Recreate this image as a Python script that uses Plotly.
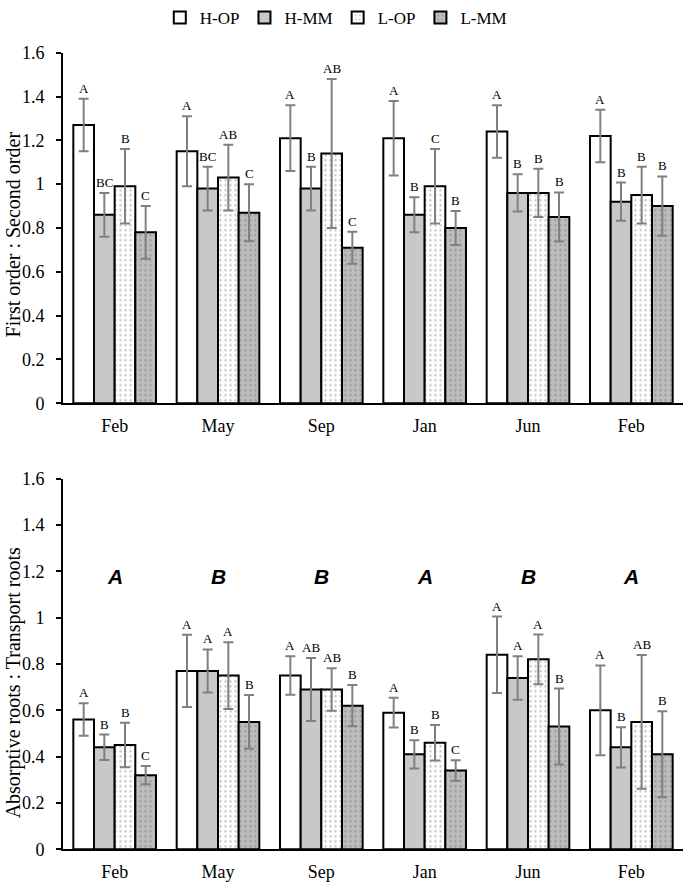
import plotly.graph_objects as go

months = ["Feb", "May", "Sep", "Jan", "Jun", "Feb"]
series = ["H-OP", "H-MM", "L-OP", "L-MM"]

# Top panel: First order : Second order
top_HOP = [1.27, 1.15, 1.21, 1.21, 1.24, 1.22]
top_HOP_err = [0.12, 0.16, 0.15, 0.17, 0.12, 0.12]
top_HMM = [0.86, 0.98, 0.98, 0.86, 0.96, 0.92]
top_HMM_err = [0.10, 0.10, 0.10, 0.08, 0.085, 0.087]
top_LOP = [0.99, 1.03, 1.14, 0.99, 0.96, 0.95]
top_LOP_err = [0.17, 0.15, 0.34, 0.17, 0.11, 0.13]
top_LMM = [0.78, 0.87, 0.71, 0.80, 0.85, 0.90]
top_LMM_err = [0.12, 0.13, 0.073, 0.078, 0.112, 0.135]
top_HOP_lab = ["A", "A", "A", "A", "A", "A"]
top_HMM_lab = ["BC", "BC", "B", "B", "B", "B"]
top_LOP_lab = ["B", "AB", "AB", "C", "B", "B"]
top_LMM_lab = ["C", "C", "C", "B", "B", "B"]

# Bottom panel: Absorptive roots : Transport roots
bot_HOP = [0.56, 0.77, 0.75, 0.59, 0.84, 0.60]
bot_HOP_err = [0.07, 0.156, 0.083, 0.064, 0.165, 0.194]
bot_HMM = [0.44, 0.77, 0.69, 0.41, 0.74, 0.44]
bot_HMM_err = [0.055, 0.093, 0.136, 0.061, 0.094, 0.087]
bot_LOP = [0.45, 0.75, 0.69, 0.46, 0.82, 0.55]
bot_LOP_err = [0.096, 0.144, 0.092, 0.077, 0.107, 0.289]
bot_LMM = [0.32, 0.55, 0.62, 0.34, 0.53, 0.41]
bot_LMM_err = [0.039, 0.116, 0.089, 0.044, 0.164, 0.186]
bot_HOP_lab = ["A", "A", "A", "A", "A", "A"]
bot_HMM_lab = ["B", "A", "AB", "B", "A", "B"]
bot_LOP_lab = ["B", "A", "AB", "B", "A", "AB"]
bot_LMM_lab = ["C", "B", "B", "C", "B", "B"]
group_lab = ["A", "B", "B", "A", "B", "A"]

x = list(range(len(months)))

styles = {
    "H-OP": dict(color="white"),
    "H-MM": dict(color="#c8c8c8"),
    "L-OP": dict(color="white", pattern=dict(shape=".", fgcolor="#8c8c8c", bgcolor="white",
                                             size=5, solidity=0.18, fillmode="overlay")),
    "L-MM": dict(color="#bdbdbd", pattern=dict(shape=".", fgcolor="#7a7a7a", bgcolor="#bdbdbd",
                                               size=5, solidity=0.18, fillmode="overlay")),
}

top = [(top_HOP, top_HOP_err, top_HOP_lab), (top_HMM, top_HMM_err, top_HMM_lab),
       (top_LOP, top_LOP_err, top_LOP_lab), (top_LMM, top_LMM_err, top_LMM_lab)]
bot = [(bot_HOP, bot_HOP_err, bot_HOP_lab), (bot_HMM, bot_HMM_err, bot_HMM_lab),
       (bot_LOP, bot_LOP_err, bot_LOP_lab), (bot_LMM, bot_LMM_err, bot_LMM_lab)]

serif = "Liberation Serif, Times New Roman, serif"
fig = go.Figure()
annotations = []
n = len(series)
bw = 0.8 / n
for panel, (data, xa, ya) in enumerate([(top, "x", "y"), (bot, "x2", "y2")]):
    for i, (name, (vals, errs, labs)) in enumerate(zip(series, data)):
        st = styles[name]
        marker = dict(color=st["color"], line=dict(color="black", width=2))
        if "pattern" in st:
            marker["pattern"] = st["pattern"]
        fig.add_trace(go.Bar(
            x=x, y=vals, name=name, xaxis=xa, yaxis=ya,
            marker=marker, showlegend=(panel == 0), legendgroup=name,
            offsetgroup=name,
            error_y=dict(type="data", array=errs, visible=True, color="#808080",
                         thickness=2, width=5),
        ))
        for k in x:
            annotations.append(dict(
                x=k - 0.4 + bw * (i + 0.5), y=vals[k] + errs[k], xref=xa, yref=ya,
                text=labs[k], showarrow=False, yanchor="bottom", yshift=1,
                font=dict(family=serif, size=13, color="black"),
            ))

for k in x:
    annotations.append(dict(
        x=k, y=1.18, xref="x2", yref="y2", text="<b><i>%s</i></b>" % group_lab[k],
        showarrow=False, font=dict(family="Liberation Sans, Arial, sans-serif", size=21, color="black"),
    ))

annotations.append(dict(x=-50 / 620, y=1 - 230 / 883, xref="paper", yref="paper",
                        xanchor="center", yanchor="middle",
                        text="First order : Second order", textangle=-90, showarrow=False,
                        font=dict(family=serif, size=20, color="black")))
annotations.append(dict(x=-50 / 620, y=1 - 682 / 883, xref="paper", yref="paper",
                        xanchor="center", yanchor="middle",
                        text="Absorptive roots : Transport roots", textangle=-90, showarrow=False,
                        font=dict(family=serif, size=20, color="black")))

xcommon = dict(tickmode="array", tickvals=x, ticktext=months, range=[-0.5, len(x) - 0.5],
               showline=True, linecolor="black", linewidth=2, ticks="", showgrid=False,
               zeroline=False, automargin=False, tickfont=dict(family=serif, size=18, color="black"),
               ticklabelstandoff=5)
ycommon = dict(range=[0, 1.6], dtick=0.2, tick0=0, showline=True, linecolor="black", linewidth=2,
               ticks="outside", ticklen=5, tickwidth=1.5, tickcolor="black", showgrid=False,
               zeroline=False, automargin=False, ticklabelstandoff=8,
               tickfont=dict(family=serif, size=18, color="black"))

fig.update_layout(
    width=685, height=883,
    margin=dict(l=63, r=2, t=0, b=0),
    paper_bgcolor="white", plot_bgcolor="white",
    barmode="group", bargap=0.2, bargroupgap=0,
    xaxis=dict(domain=[0, 1], anchor="y", **xcommon),
    yaxis=dict(domain=[1 - 400 / 883, 1 - 47 / 883], anchor="x", **ycommon),
    xaxis2=dict(domain=[0, 1], anchor="y2", **xcommon),
    yaxis2=dict(domain=[1 - 849 / 883, 1 - 476 / 883], anchor="x2", **ycommon),
    legend=dict(orientation="h", x=0.44, xanchor="center", y=1 - 12 / 883, yanchor="middle",
                font=dict(family=serif, size=17, color="black"), itemwidth=30,
                tracegroupgap=0, bgcolor="rgba(0,0,0,0)"),
    annotations=annotations,
    showlegend=True,
)

fig.write_html("out.html", config={"displayModeBar": False},
               post_script="document.body.style.margin='0';document.body.style.padding='0';"
                           "document.body.style.overflow='hidden';")
